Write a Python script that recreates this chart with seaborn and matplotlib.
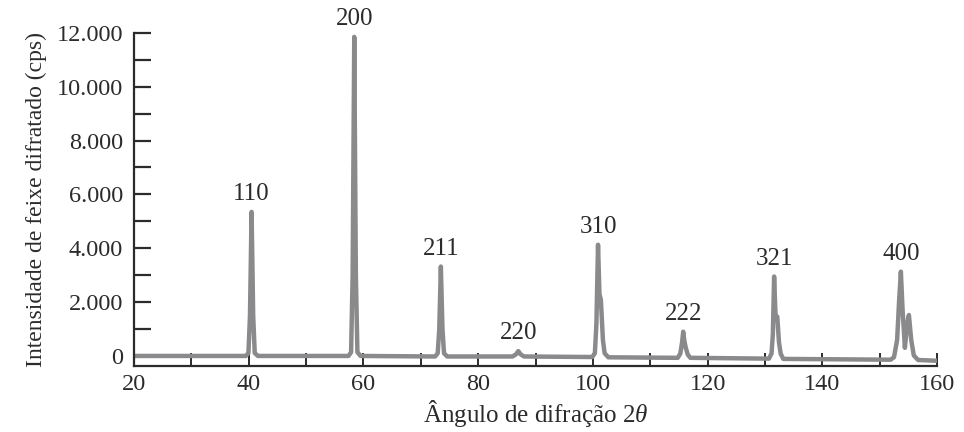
import matplotlib
matplotlib.use("Agg")
import matplotlib.pyplot as plt
from matplotlib.ticker import FuncFormatter, MultipleLocator
import pandas as pd
import seaborn as sns

# Diffraction pattern (angle 2theta in degrees, intensity in counts per second)
angle = [
    20.0, 39.5, 39.95, 40.22, 40.5, 40.78, 41.05, 41.6,
    57.4, 57.85, 58.12, 58.4, 58.68, 58.95, 59.5,
    72.5, 72.95, 73.22, 73.5, 73.78, 74.05, 74.6,
    86.0, 86.6, 87.0, 87.4, 88.0,
    99.9, 100.35, 100.62, 100.9, 101.15, 101.4, 101.75, 102.05, 102.7,
    114.8, 115.25, 115.55, 115.75, 115.95, 116.2, 116.55, 117.0,
    130.7, 131.15, 131.38, 131.6, 131.85, 132.15, 132.45, 132.75, 133.2,
    151.9, 152.5, 153.05, 153.38, 153.7, 154.0, 154.4, 154.8, 155.1, 155.5, 155.95, 156.7,
    160.0,
]
intensity = [
    0, 0, 110, 1500, 5350, 1500, 110, 0,
    0, 140, 3000, 11850, 3000, 140, 0,
    -20, 100, 1000, 3320, 1000, 100, -20,
    -20, 60, 180, 60, -20,
    -40, 100, 1200, 4130, 2300, 2080, 600, 100, -50,
    -70, 90, 500, 900, 560, 300, 50, -70,
    -100, 90, 800, 2950, 1500, 1460, 500, 80, -110,
    -140, -50, 600, 2000, 3130, 1700, 300, 1200, 1520, 600, 20, -150,
    -180,
]

# Miller indices of the reflections and where their peaks sit
peak_labels = ["110", "200", "211", "220", "310", "222", "321", "400"]
peak_angle = [40.5, 58.4, 73.5, 87.0, 100.9, 115.75, 131.6, 153.7]
peak_height = [5350, 11850, 3320, 180, 4130, 900, 2950, 3130]

x_ticks = [20, 40, 60, 80, 100, 120, 140, 160]
y_ticks = [0, 2000, 4000, 6000, 8000, 10000, 12000]

sns.set_style("ticks")
plt.rcParams["font.family"] = ["Liberation Serif", "DejaVu Serif"]
plt.rcParams["mathtext.fontset"] = "custom"
plt.rcParams["mathtext.rm"] = "Liberation Serif"
plt.rcParams["mathtext.it"] = "Liberation Serif:italic"

ink = "#2b2b2b"
line_color = "#8a8a8c"

fig = plt.figure(figsize=(9.64, 4.32), dpi=100)
ax = fig.add_axes([0.139, 0.153, 0.833, 0.771])

df = pd.DataFrame({"angle": angle, "intensity": intensity})
sns.lineplot(data=df, x="angle", y="intensity", sort=False, ax=ax,
             color=line_color, linewidth=3.2, solid_joinstyle="round",
             solid_capstyle="round")

for lab, xa, ya in zip(peak_labels, peak_angle, peak_height):
    ax.annotate(lab, xy=(xa, ya), xytext=(0, 5), textcoords="offset points",
                ha="center", va="bottom", fontsize=18, color=ink,
                annotation_clip=False)

ax.set_xlim(20, 160)
ax.set_ylim(-370, 12000)
ax.set_xticks(x_ticks)
ax.xaxis.set_minor_locator(MultipleLocator(10))
ax.set_yticks(y_ticks)
ax.yaxis.set_minor_locator(MultipleLocator(1000))
ax.yaxis.set_major_formatter(
    FuncFormatter(lambda v, _: f"{int(v):,}".replace(",", ".")))

for side in ("top", "right"):
    ax.spines[side].set_visible(False)
for side in ("left", "bottom"):
    ax.spines[side].set_color(ink)
    ax.spines[side].set_linewidth(1.6)

ax.tick_params(axis="y", which="both", direction="in", length=12, width=1.6,
               color=ink, labelsize=17.5, labelcolor=ink, pad=8)
ax.tick_params(axis="x", which="both", direction="in", length=9.5, width=1.4,
               color=ink, labelsize=17.5, labelcolor=ink, pad=6)

ax.set_xlabel(r"Ângulo de difração 2$\mathit{\theta}$", fontsize=18,
              color=ink, labelpad=2)
ax.set_ylabel("Intensidade de feixe difratado (cps)", fontsize=17,
              color=ink, labelpad=7)

fig.savefig("out.png", dpi=100)
